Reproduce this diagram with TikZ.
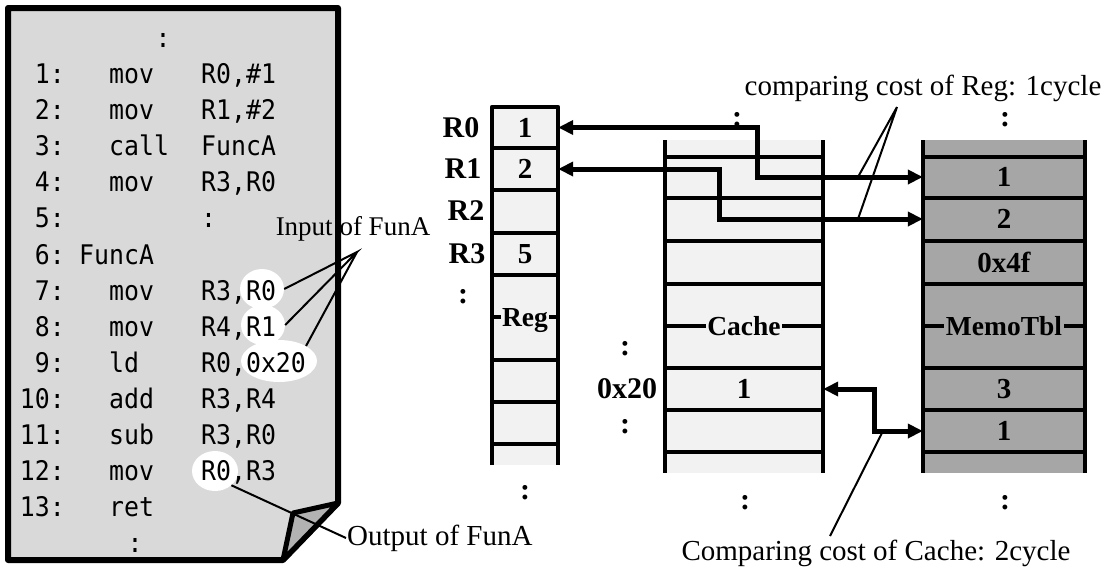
\documentclass[tikz,border=0pt]{standalone}
\usepackage{fontspec}
\setmainfont{Liberation Serif}
\newfontfamily\codefont[FakeStretch=0.92]{DejaVu Sans Mono}
\usetikzlibrary{arrows.meta,shapes.geometric}
\definecolor{docgray}{RGB}{217,217,217}
\definecolor{flapgray}{RGB}{178,178,178}
\definecolor{lightcol}{RGB}{242,242,242}
\definecolor{memocol}{RGB}{166,166,166}
\begin{document}
\begin{tikzpicture}[x=1pt,y=-1pt,
  code/.style={font=\fontsize{27}{30}\selectfont\codefont, inner sep=0pt},
  lbl/.style={font=\fontsize{29}{32}\selectfont, inner sep=1pt},
  bl/.style={font=\fontsize{30}{33}\selectfont\bfseries, inner sep=0pt},
  cellv/.style={font=\fontsize{29}{32}\selectfont\bfseries, inner sep=0pt, minimum height=42pt},
  boxlbl/.style={font=\fontsize{27.5}{30}\selectfont\bfseries, inner xsep=1.5pt, inner ysep=2pt, text height=18pt, text depth=0pt},
  colline/.style={line width=4.5pt},
  dbl/.style={line width=5pt, {Triangle[length=15pt,width=14pt]}-{Triangle[length=15pt,width=14pt]}},
  ptr/.style={line width=2pt},
  hole/.style={ellipse, fill=white, inner sep=0pt}
]
\useasboundingbox (0,0) rectangle (1116,571);

% ---------------- document with code ----------------
\filldraw[fill=docgray, line width=6pt, line join=round]
  (8,8) -- (338,8) -- (338,503) -- (283,560) -- (8,560) -- cycle;
\filldraw[fill=flapgray, line width=5pt, line join=round]
  (338,503) -- (293,513) -- (283,560) -- cycle;

\node[hole, minimum width=44pt, minimum height=40pt] (e7) at (262,289) {};
\node[hole, minimum width=44pt, minimum height=40pt] (e8) at (263,325) {};
\node[hole, minimum width=76pt, minimum height=42pt] (e9) at (279,361) {};
\node[hole, minimum width=46pt, minimum height=40pt] (e12) at (215,471) {};

\node[code, anchor=base] (dtop) at (163,47) {:};
\node[code, anchor=base east] (ln1) at (65,83) {1:};
\node[code, anchor=base west] (mn1) at (109,83) {mov};
\node[code, anchor=base west] (op1) at (201,83) {R0,\#1};
\node[code, anchor=base east] (ln2) at (65,119) {2:};
\node[code, anchor=base west] (mn2) at (109,119) {mov};
\node[code, anchor=base west] (op2) at (201,119) {R1,\#2};
\node[code, anchor=base east] (ln3) at (65,155) {3:};
\node[code, anchor=base west] (mn3) at (109,155) {call};
\node[code, anchor=base west] (op3) at (201,155) {FuncA};
\node[code, anchor=base east] (ln4) at (65,191) {4:};
\node[code, anchor=base west] (mn4) at (109,191) {mov};
\node[code, anchor=base west] (op4) at (201,191) {R3,R0};
\node[code, anchor=base east] (ln5) at (65,227) {5:};
\node[code, anchor=base west] (op5) at (201,227) {:};
\node[code, anchor=base east] (ln6) at (65,264) {6:};
\node[code, anchor=base west] (mn6) at (79,264) {FuncA};
\node[code, anchor=base east] (ln7) at (65,300) {7:};
\node[code, anchor=base west] (mn7) at (109,300) {mov};
\node[code, anchor=base west] (op7) at (201,300) {R3,R0};
\node[code, anchor=base east] (ln8) at (65,336) {8:};
\node[code, anchor=base west] (mn8) at (109,336) {mov};
\node[code, anchor=base west] (op8) at (201,336) {R4,R1};
\node[code, anchor=base east] (ln9) at (65,372) {9:};
\node[code, anchor=base west] (mn9) at (109,372) {ld};
\node[code, anchor=base west] (op9) at (201,372) {R0,0x20};
\node[code, anchor=base east] (ln10) at (65,408) {10:};
\node[code, anchor=base west] (mn10) at (109,408) {add};
\node[code, anchor=base west] (op10) at (201,408) {R3,R4};
\node[code, anchor=base east] (ln11) at (65,444) {11:};
\node[code, anchor=base west] (mn11) at (109,444) {sub};
\node[code, anchor=base west] (op11) at (201,444) {R3,R0};
\node[code, anchor=base east] (ln12) at (65,480) {12:};
\node[code, anchor=base west] (mn12) at (109,480) {mov};
\node[code, anchor=base west] (op12) at (201,480) {R0,R3};
\node[code, anchor=base east] (ln13) at (65,516) {13:};
\node[code, anchor=base west] (mn13) at (109,516) {ret};
\node[code, anchor=base] (dbot) at (135,552) {:};

% labels of the code
\node[lbl, font=\fontsize{27}{30}\selectfont] (inlbl) at (353,229) {Input of FunA};
\coordinate (ic) at (357,252);
\draw[ptr] (e7.east) -- (ic) -- (e8.east);
\draw[ptr] (ic) -- (e9.north east);
\node[lbl, anchor=west] (outl) at (346,538) {Output of FunA};
\draw[ptr] (e12.south east) -- (outl.west);

% ---------------- Reg column ----------------
\fill[lightcol] (492,107) rectangle (558,465);
\draw[colline, line join=round] (492,465) -- (492,107) -- (558,107) -- (558,465);
\foreach \y in {148,190,233,275,317,360,402,444}
  \draw[colline] (492,\y) -- (558,\y);
\node[cellv, minimum width=66pt, minimum height=41pt] (r0) at (525,127.5) {1};
\node[cellv, minimum width=66pt] (r1) at (525,169) {2};
\node[cellv, minimum width=66pt] (r2) at (525,211.5) {};
\node[cellv, minimum width=66pt] (r3) at (525,254) {5};
\node[boxlbl, fill=lightcol] (reglbl) at (525,317) {Reg};

% ---------------- Cache column ----------------
\fill[lightcol] (665,140) rectangle (823,473);
\draw[colline] (665,140) -- (665,473);
\draw[colline] (823,140) -- (823,473);
\foreach \y in {157,198,241,284,326,368,410,452}
  \draw[colline] (665,\y) -- (823,\y);
\node[boxlbl, fill=lightcol] (cachelbl) at (744,326) {Cache};
\node[cellv, minimum width=158pt] (cx) at (744,389) {1};

% ---------------- MemoTbl column ----------------
\fill[memocol] (923,140) rectangle (1085,473);
\draw[colline] (923,140) -- (923,473);
\draw[colline] (1085,140) -- (1085,473);
\foreach \y in {157,198,241,284,326,368,410,452}
  \draw[colline] (923,\y) -- (1085,\y);
\node[cellv, minimum width=162pt] (m1) at (1004,177) {1};
\node[cellv, minimum width=162pt] (m2) at (1004,219) {2};
\node[cellv, minimum width=162pt] (m3) at (1004,262.5) {0x4f};
\node[boxlbl, fill=memocol] (memolbl) at (1004,326) {MemoTbl};
\node[cellv, minimum width=162pt] (m5) at (1004,389) {3};
\node[cellv, minimum width=162pt] (m6) at (1004,431) {1};

% ---------------- outside labels ----------------
\node[bl] (lr0) at (461,128) {R0};
\node[bl] (lr1) at (463,169) {R1};
\node[bl] (lr2) at (466,211) {R2};
\node[bl] (lr3) at (467,254) {R3};
\node[bl] (lrd) at (463,297) {:};
\node[bl] (l20) at (627,389) {0x20};
\node[bl] (l20a) at (625,349) {:};
\node[bl] (l20b) at (625,427) {:};
\node[bl] (dreg) at (525,493) {:};
\node[bl] (dct) at (737,120) {:};
\node[bl] (dmt) at (1005,120) {:};
\node[bl] (dcb) at (745,503) {:};
\node[bl] (dmb) at (1005,503) {:};

% ---------------- arrows ----------------
\draw[dbl] (r0.east) -- ++(199,0) |- (m1.west);
\draw[dbl] (r1.east) -- ++(161,0) |- (m2.west);
\draw[dbl] (cx.east) -- ++(51,0) |- (m6.west);

% ---------------- cost labels ----------------
\node[lbl] (regcost) at (923,88) {comparing cost of Reg: 1cycle};
\coordinate (rc) at (897,107);
\coordinate (p1) at (858,177);
\coordinate (p2) at (858,219);
\draw[ptr] (p1) -- (rc) -- (p2);
\node[lbl] (cachecost) at (876,553) {Comparing cost of Cache: 2cycle};
\coordinate (cc) at (830,536);
\coordinate (p3) at (883,431);
\draw[ptr] (cc) -- (p3);
\end{tikzpicture}
\end{document}
